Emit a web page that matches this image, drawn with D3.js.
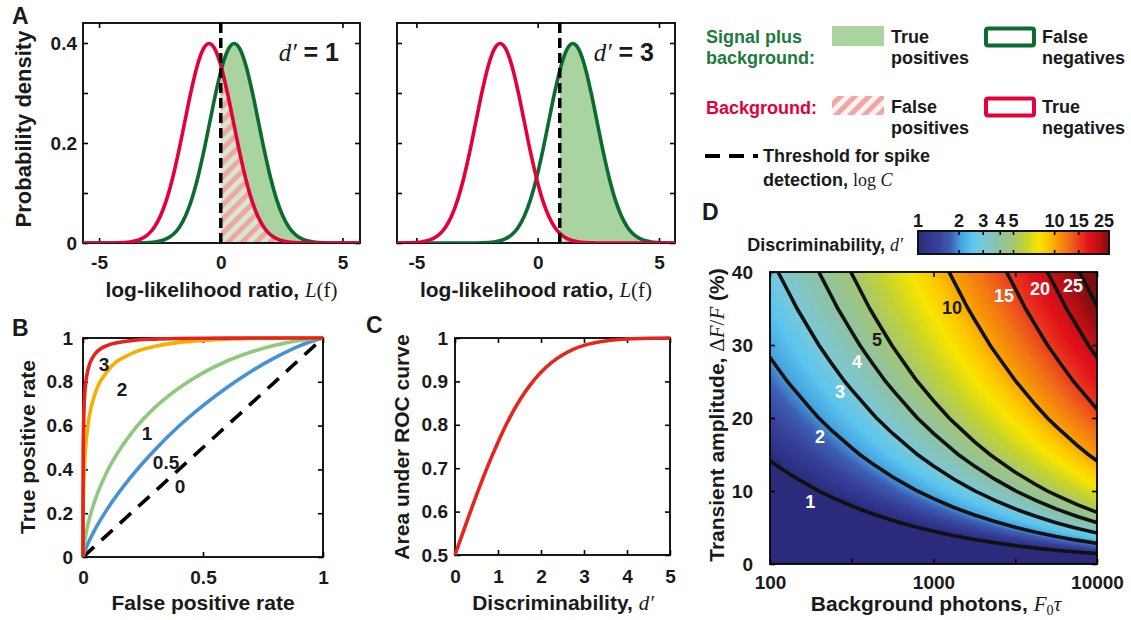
<!DOCTYPE html>
<html>
<head>
<meta charset="utf-8">
<script src="https://cdn.jsdelivr.net/npm/d3@7"></script>
<style>
  body { margin: 0; background: #fff; }
  svg { display: block; }
</style>
</head>
<body>
<script>
// ---------- data ----------
// panel A: standard-normal shape sampled at offsets from the mean
const zOffsets = [-8, -4, -3.75, -3.5, -3.25, -3, -2.75, -2.5, -2.25, -2, -1.75, -1.5, -1.25, -1, -0.75, -0.5, -0.25,
                  0, 0.25, 0.5, 0.75, 1, 1.25, 1.5, 1.75, 2, 2.25, 2.5, 2.75, 3, 3.25, 3.5, 3.75, 4, 8];
const pdfShape = [0, 0.0001, 0.0004, 0.0009, 0.0020, 0.0044, 0.0091, 0.0175, 0.0317, 0.0540, 0.0863, 0.1295, 0.1826, 0.2420, 0.3011, 0.3521, 0.3867,
                  0.3989, 0.3867, 0.3521, 0.3011, 0.2420, 0.1826, 0.1295, 0.0863, 0.0540, 0.0317, 0.0175, 0.0091, 0.0044, 0.0020, 0.0009, 0.0004, 0.0001, 0];
const dPrimeA = [1, 3];
const bgMean = [-0.48, -1.55];
const sigMean = [0.55, 1.45];
const thresholdA = [0, 0.91];

// panel B: ROC curves
const rocLabels = ['0', '0.5', '1', '2', '3'];
const fprGrid = [0, 0.00001, 0.0001, 0.001, 0.005, 0.01, 0.02, 0.05, 0.1, 0.2, 0.3, 0.4, 0.5, 0.6, 0.7, 0.8, 0.9, 0.95, 1];
const tprD0 = [0, 0.00001, 0.0001, 0.001, 0.005, 0.01, 0.02, 0.05, 0.1, 0.2, 0.3, 0.4, 0.5, 0.6, 0.7, 0.8, 0.9, 0.95, 1];
const tprD05 = [0, 0.00008, 0.00064, 0.0048, 0.019, 0.034, 0.060, 0.126, 0.217, 0.366, 0.490, 0.598, 0.691, 0.774, 0.847, 0.910, 0.963, 0.984, 1];
const tprD1 = [0, 0.00055, 0.0033, 0.018, 0.058, 0.092, 0.146, 0.259, 0.389, 0.563, 0.683, 0.772, 0.841, 0.895, 0.936, 0.967, 0.989, 0.996, 1];
const tprD2 = [0, 0.0247, 0.078, 0.215, 0.391, 0.490, 0.597, 0.744, 0.846, 0.928, 0.962, 0.980, 0.989, 0.9947, 0.9976, 0.9992, 0.9998, 1, 1];
const tprD3 = [0, 0.122, 0.268, 0.504, 0.700, 0.781, 0.852, 0.927, 0.9655, 0.988, 0.995, 0.9978, 0.999, 0.9996, 0.9999, 1, 1, 1, 1];
const rocLabelPos = [[0.404, 0.324], [0.346, 0.434], [0.267, 0.566], [0.1625, 0.767], [0.0875, 0.881]];

// panel C: area under ROC vs d'
const dGridC = [0, 0.25, 0.5, 0.75, 1, 1.25, 1.5, 1.75, 2, 2.25, 2.5, 2.75, 3, 3.25, 3.5, 3.75, 4, 4.5, 5];
const aucVals = [0.5, 0.570, 0.638, 0.702, 0.760, 0.812, 0.856, 0.892, 0.921, 0.944, 0.961, 0.974, 0.983, 0.989, 0.9933, 0.996, 0.9977, 0.9993, 0.9998];

// panel D: discriminability over background photons (columns) x transient amplitude % (rows)
const photonCols = [100, 133.4, 177.8, 237.1, 316.2, 421.7, 562.3, 749.9, 1000, 1333, 1778, 2371, 3162, 4217, 5623, 7499, 10000];
const ampRows = [0, 5, 10, 15, 20, 25, 30, 35, 40];
const dGrid = [
  [0, 0, 0, 0, 0, 0, 0, 0, 0, 0, 0, 0, 0, 0, 0, 0, 0],
  [0.354, 0.408, 0.471, 0.545, 0.629, 0.726, 0.839, 0.968, 1.118, 1.291, 1.491, 1.721, 1.989, 2.296, 2.651, 3.061, 3.535],
  [0.707, 0.817, 0.943, 1.090, 1.258, 1.453, 1.678, 1.938, 2.235, 2.583, 2.983, 3.443, 3.978, 4.593, 5.303, 6.123, 7.070],
  [1.061, 1.226, 1.414, 1.635, 1.886, 2.179, 2.516, 2.906, 3.354, 3.874, 4.474, 5.164, 5.966, 6.889, 7.954, 9.184, 10.605],
  [1.414, 1.633, 1.886, 2.180, 2.515, 2.905, 3.355, 3.875, 4.470, 5.165, 5.965, 6.885, 7.955, 9.185, 10.605, 12.245, 14.140],
  [1.768, 2.041, 2.358, 2.725, 3.144, 3.631, 4.194, 4.844, 5.590, 6.456, 7.456, 8.606, 9.944, 11.481, 13.256, 15.306, 17.675],
  [2.121, 2.449, 2.829, 3.270, 3.773, 4.358, 5.033, 5.813, 6.705, 7.748, 8.948, 10.328, 11.933, 13.778, 15.908, 18.368, 21.210],
  [2.475, 2.858, 3.300, 3.815, 4.401, 5.084, 5.871, 6.781, 7.823, 9.039, 10.439, 12.049, 13.921, 16.074, 18.559, 21.429, 24.745],
  [2.828, 3.266, 3.772, 4.356, 5.030, 5.808, 6.707, 7.745, 8.944, 10.330, 11.930, 13.770, 15.910, 18.370, 21.210, 24.490, 28.280]
];
const contourLevels = [1, 2, 3, 4, 5, 10, 15, 20, 25];
const contourLabelPos = [[176, 8.5], [202, 17.4], [268, 23.6], [340, 27.8], [451, 30.8], [1297, 35.2], [2698, 36.8], [4480, 37.7], [7129, 38.2]];
const contourLabelDark = [false, false, false, false, true, true, false, false, false];
const colorbarTicks = [1, 2, 3, 4, 5, 10, 15, 25];

// colormap stops (d', colour)
const cmapVals = [1, 1.4, 1.75, 2.05, 2.5, 3, 3.8, 4.8, 6.2, 7.6, 8.8, 10, 12.5, 15, 18, 21, 25];
const cmapCols = ['#2b2a7b', '#36409a', '#3e5fb5', '#47a2df', '#5bc6ee', '#7cc7d8', '#8bc3aa', '#9fc57f', '#c6d42c',
                  '#f8e500', '#fec800', '#fba600', '#f27216', '#ea3d1d', '#e2101b', '#bd1015', '#7b0f0f'];

// ---------- setup ----------
const fontSans = '"Liberation Sans", Arial, Helvetica, sans-serif';
const fontSerif = '"Liberation Serif", "Times New Roman", serif';
const ink = '#1a1a1a';
const green = '#0b6b30', red = '#e4003a', greenFill = '#a9d4a0';

const svg = d3.select('body').append('svg')
  .attr('width', 1131).attr('height', 620)
  .attr('font-family', fontSans).attr('font-weight', 'bold');
const defs = svg.append('defs');

function hatch(id, bg) {
  const p = defs.append('pattern').attr('id', id).attr('patternUnits', 'userSpaceOnUse')
    .attr('width', 10).attr('height', 10).attr('patternTransform', 'rotate(45)');
  p.append('rect').attr('width', 10).attr('height', 10).attr('fill', bg);
  p.append('rect').attr('width', 5).attr('height', 10).attr('fill', '#f2a5a5');
}
hatch('hatchPlot', '#d3e8cc');
hatch('hatchLegend', '#fdf3f3');

function rich(parent, x, y, parts, size, anchor, fill) {
  const t = parent.append('text').attr('x', x).attr('y', y).attr('font-size', size)
    .attr('text-anchor', anchor || 'start').attr('fill', fill || ink);
  parts.forEach(p => {
    const [s, kind] = typeof p === 'string' ? [p, 'b'] : p;
    const ts = t.append('tspan').text(s);
    if (kind !== 'b') ts.attr('font-family', fontSerif).attr('font-weight', 'normal');
    if (kind === 'i' || kind === 'iu') ts.attr('font-style', 'italic');
    if (kind === 'sub') ts.attr('font-size', size * 0.68).attr('dy', size * 0.2);
    if (kind === 'iu') ts.attr('dy', -size * 0.2);
  });
  return t;
}

function clipRect(id, x, y, w, h) {
  defs.append('clipPath').attr('id', id).append('rect').attr('x', x).attr('y', y).attr('width', w).attr('height', h);
}

function drawAxes(xs, ys, o) {
  const [xa, xb] = xs.range();
  const [yb, ya] = ys.range();
  const g = svg.append('g');
  g.append('g').attr('transform', `translate(0,${yb})`)
    .call(d3.axisBottom(xs).tickValues(o.xTicks).tickSizeInner(-5).tickSizeOuter(0).tickPadding(o.xPad).tickFormat(o.xFmt));
  g.append('g').attr('transform', `translate(0,${ya})`)
    .call(d3.axisTop(xs).tickValues(o.xTicks).tickSizeInner(-5).tickSizeOuter(0).tickFormat(''));
  g.append('g').attr('transform', `translate(${xa},0)`)
    .call(d3.axisLeft(ys).tickValues(o.yTicks).tickSizeInner(-5).tickSizeOuter(0).tickPadding(o.yPad).tickFormat(o.yFmt));
  g.append('g').attr('transform', `translate(${xb},0)`)
    .call(d3.axisRight(ys).tickValues(o.yTicks).tickSizeInner(-5).tickSizeOuter(0).tickFormat(''));
  g.selectAll('.domain').remove();
  g.selectAll('.tick line').attr('stroke', '#000').attr('stroke-width', 1.6);
  g.selectAll('g').attr('font-family', fontSans).attr('font-size', 19).attr('font-weight', 'bold');
  g.selectAll('.tick text').attr('fill', ink);
  g.append('rect').attr('x', xa).attr('y', ya).attr('width', xb - xa).attr('height', yb - ya)
    .attr('fill', 'none').attr('stroke', '#000').attr('stroke-width', 1.8);
  return g;
}

// panel letters
[['A', 12, 24], ['B', 12, 336], ['C', 366, 333], ['D', 702, 220]].forEach(([s, x, y]) =>
  svg.append('text').attr('x', x).attr('y', y).attr('font-size', 23).attr('fill', ink).text(s));

// ---------- panel A ----------
const aBoxes = [{ x0: 83, x1: 360, dom: [-5.66, 5.72] }, { x0: 397, x1: 675, dom: [-5.8, 5.66] }];
const yA = d3.scaleLinear().domain([0, 0.44]).range([243, 23]);

dPrimeA.forEach((dp, k) => {
  const b = aBoxes[k];
  const xA = d3.scaleLinear().domain(b.dom).range([b.x0, b.x1]);
  const bg = zOffsets.map((z, i) => [bgMean[k] + z, pdfShape[i]]);
  const sig = zOffsets.map((z, i) => [sigMean[k] + z, pdfShape[i]]);
  const tx = xA(thresholdA[k]);
  clipRect('boxA' + k, b.x0, 23, b.x1 - b.x0, 220);
  clipRect('rightA' + k, tx, 23, b.x1 - tx, 221);

  const area = d3.area().x(d => xA(d[0])).y0(yA(0)).y1(d => yA(d[1])).curve(d3.curveMonotoneX);
  const line = d3.line().x(d => xA(d[0])).y(d => yA(d[1])).curve(d3.curveMonotoneX);

  const fills = svg.append('g').attr('clip-path', `url(#rightA${k})`);
  fills.append('path').attr('d', area(sig)).attr('fill', greenFill);
  fills.append('path').attr('d', area(bg)).attr('fill', 'url(#hatchPlot)');

  drawAxes(xA, yA, {
    xTicks: [-5, 0, 5], xPad: 13, xFmt: d => String(d),
    yTicks: [0, 0.1, 0.2, 0.3, 0.4], yPad: 6,
    yFmt: k === 0 ? (d => (d === 0.1 || d === 0.3) ? '' : String(d)) : ''
  });

  const curves = svg.append('g').attr('clip-path', `url(#boxA${k})`);
  curves.append('path').attr('d', line(sig)).attr('fill', 'none').attr('stroke', green).attr('stroke-width', 3.6);
  curves.append('path').attr('d', line(bg)).attr('fill', 'none').attr('stroke', red).attr('stroke-width', 3.6);

  svg.append('line').attr('x1', tx).attr('x2', tx).attr('y1', 23).attr('y2', 243)
    .attr('stroke', '#000').attr('stroke-width', 3.5).attr('stroke-dasharray', '10 5');

  rich(svg, b.x1 - 21, 61, [['d′', 'i'], ' = ' + dp], 25, 'end');
  rich(svg, (b.x0 + b.x1) / 2, 297, ['log-likelihood ratio, ', ['L', 'i'], ['(f)', 'r']], 21, 'middle');
});

svg.append('text').attr('transform', 'translate(31,129) rotate(-90)').attr('text-anchor', 'middle')
  .attr('font-size', 22).attr('fill', ink).text('Probability density');

// ---------- legend ----------
const lg = svg.append('g').attr('font-size', 18);
rich(lg, 706, 43, ['Signal plus'], 18, 'start', '#1e7b3c');
rich(lg, 706, 64, ['background:'], 18, 'start', '#1e7b3c');
lg.append('rect').attr('x', 832).attr('y', 26).attr('width', 52).attr('height', 20).attr('fill', greenFill);
rich(lg, 891, 43, ['True'], 18); rich(lg, 891, 64, ['positives'], 18);
lg.append('rect').attr('x', 986).attr('y', 28.5).attr('width', 48).attr('height', 17).attr('rx', 2)
  .attr('fill', '#fff').attr('stroke', green).attr('stroke-width', 4);
rich(lg, 1042, 43, ['False'], 18); rich(lg, 1042, 64, ['negatives'], 18);

rich(lg, 706, 114, ['Background:'], 18, 'start', red);
lg.append('rect').attr('x', 832).attr('y', 96).attr('width', 52).attr('height', 19).attr('fill', 'url(#hatchLegend)');
rich(lg, 891, 113, ['False'], 18); rich(lg, 891, 134, ['positives'], 18);
lg.append('rect').attr('x', 986).attr('y', 98.5).attr('width', 48).attr('height', 17).attr('rx', 2)
  .attr('fill', '#fff').attr('stroke', red).attr('stroke-width', 4);
rich(lg, 1042, 113, ['True'], 18); rich(lg, 1042, 134, ['negatives'], 18);

lg.append('line').attr('x1', 705).attr('x2', 758).attr('y1', 156).attr('y2', 156)
  .attr('stroke', '#000').attr('stroke-width', 4).attr('stroke-dasharray', '15 9');
rich(lg, 763, 162, ['Threshold for spike'], 18);
rich(lg, 763, 186, ['detection, ', ['log ', 'r'], ['C', 'i']], 18);

// ---------- panel B ----------
const xB = d3.scaleLinear().domain([0, 1]).range([83, 323]);
const yB = d3.scaleLinear().domain([0, 1]).range([557, 338]);
drawAxes(xB, yB, {
  xTicks: [0, 0.5, 1], xPad: 14, xFmt: d => String(d),
  yTicks: [0, 0.2, 0.4, 0.6, 0.8, 1], yPad: 10, yFmt: d => String(d)
});
const rocLine = d3.line().x(d => xB(d[0])).y(d => yB(d[1])).curve(d3.curveMonotoneX);
const rocSeries = [tprD0, tprD05, tprD1, tprD2, tprD3];
const rocColors = ['#000', '#4592d6', '#8ec97d', '#f8ad00', '#e5231c'];
const gB = svg.append('g');
rocSeries.forEach((tpr, i) => {
  gB.append('path').attr('d', rocLine(fprGrid.map((f, j) => [f, tpr[j]])))
    .attr('fill', 'none').attr('stroke', rocColors[i]).attr('stroke-width', 3.6)
    .attr('stroke-dasharray', i === 0 ? '15 10' : null);
});
rocLabels.forEach((s, i) => {
  svg.append('text').attr('x', xB(rocLabelPos[i][0])).attr('y', yB(rocLabelPos[i][1]))
    .attr('text-anchor', 'middle').attr('dy', '0.35em').attr('font-size', 19).attr('fill', ink).text(s);
});
svg.append('text').attr('transform', 'translate(28,447) rotate(-90)').attr('dy', '0.35em').attr('text-anchor', 'middle')
  .attr('font-size', 21).attr('fill', ink).text('True positive rate');
svg.append('text').attr('x', 203).attr('y', 610).attr('text-anchor', 'middle')
  .attr('font-size', 21).attr('fill', ink).text('False positive rate');

// ---------- panel C ----------
const xC = d3.scaleLinear().domain([0, 5]).range([455, 670]);
const yC = d3.scaleLinear().domain([0.5, 1]).range([555, 338]);
drawAxes(xC, yC, {
  xTicks: [0, 1, 2, 3, 4, 5], xPad: 15, xFmt: d => String(d),
  yTicks: [0.5, 0.6, 0.7, 0.8, 0.9, 1], yPad: 7, yFmt: d => String(d)
});
svg.append('path')
  .attr('d', d3.line().x(d => xC(d[0])).y(d => yC(d[1])).curve(d3.curveMonotoneX)(dGridC.map((d, i) => [d, aucVals[i]])))
  .attr('fill', 'none').attr('stroke', '#e5261e').attr('stroke-width', 3.6);
svg.append('text').attr('transform', 'translate(402,447) rotate(-90)').attr('dy', '0.35em').attr('text-anchor', 'middle')
  .attr('font-size', 21).attr('fill', ink).text('Area under ROC curve');
rich(svg, 563, 610, ['Discriminability, ', ['d′', 'i']], 21, 'middle');

// ---------- panel D ----------
const xD = d3.scaleLog().domain([100, 10000]).range([770, 1097]);
const yD = d3.scaleLinear().domain([0, 40]).range([564, 272]);
const cmap = d3.scaleLog().domain(cmapVals).range(cmapCols).interpolate(d3.interpolateRgb).clamp(true);

// grid index -> pixel (values sit at cell centres in d3.contours space)
const nCols = photonCols.length, nRows = ampRows.length;
const gx = d3.scaleLinear().domain([0.5, nCols - 0.5]).range([xD(photonCols[0]), xD(photonCols[nCols - 1])]);
const gy = d3.scaleLinear().domain([0.5, nRows - 0.5]).range([yD(ampRows[0]), yD(ampRows[nRows - 1])]);
const proj = d3.geoTransform({ point(x, y) { this.stream.point(gx(x), gy(y)); } });
const gpath = d3.geoPath(proj);
const flat = dGrid.flat();

clipRect('boxD', 770, 272, 327, 292);
const heat = svg.append('g').attr('clip-path', 'url(#boxD)');
heat.append('rect').attr('x', 770).attr('y', 272).attr('width', 327).attr('height', 292).attr('fill', cmap(1));

const nBands = 160;
const bandThr = d3.range(nBands).map(i => Math.pow(30, i / nBands));
const bands = d3.contours().size([nCols, nRows]).thresholds(bandThr)(flat);
heat.selectAll('path.band').data(bands).join('path').attr('class', 'band')
  .attr('d', gpath).attr('fill', d => cmap(d.value * Math.pow(30, 0.5 / nBands)))
  .attr('stroke', d => cmap(d.value * Math.pow(30, 0.5 / nBands))).attr('stroke-width', 0.6);

const lines = d3.contours().size([nCols, nRows]).thresholds(contourLevels)(flat);
heat.selectAll('path.iso').data(lines).join('path').attr('class', 'iso')
  .attr('d', gpath).attr('fill', 'none').attr('stroke', '#111').attr('stroke-width', 3.6);

contourLevels.forEach((lv, i) => {
  svg.append('text').attr('x', xD(contourLabelPos[i][0])).attr('y', yD(contourLabelPos[i][1]))
    .attr('text-anchor', 'middle').attr('dy', '0.36em').attr('font-size', 18)
    .attr('fill', contourLabelDark[i] ? ink : '#fff').text(lv);
});

drawAxes(xD, yD, {
  xTicks: [100, 316.2, 1000, 3162, 10000], xPad: 12, xFmt: d => (d === 100 || d === 1000 || d === 10000) ? String(d) : '',
  yTicks: [0, 10, 20, 30, 40], yPad: 17, yFmt: d => String(d)
});

rich(svg, 0, 0, ['Transient amplitude, ', ['Δ', 'r'], ['F', 'i'], ['/', 'r'], ['F', 'i'], ' (%)'], 21, 'middle')
  .attr('transform', 'translate(724,415) rotate(-90)');
rich(svg, 936, 611, ['Background photons, ', ['F', 'i'], ['0', 'sub'], ['τ', 'iu']], 21, 'middle');

// colour bar
const xCb = d3.scaleLog().domain([1, 25]).range([918, 1109]);
const cb = svg.append('g');
d3.range(918, 1109).forEach(px => {
  cb.append('rect').attr('x', px).attr('y', 231).attr('width', 1.2).attr('height', 23)
    .attr('fill', cmap(xCb.invert(px + 0.5)));
});
colorbarTicks.forEach(v => {
  const x = xCb(v);
  if (v > 1 && v < 25) {
    cb.append('line').attr('x1', x).attr('x2', x).attr('y1', 231).attr('y2', 235).attr('stroke', '#000').attr('stroke-width', 1.6);
    cb.append('line').attr('x1', x).attr('x2', x).attr('y1', 250).attr('y2', 254).attr('stroke', '#000').attr('stroke-width', 1.6);
  }
  cb.append('text').attr('x', v === 25 ? x - 5 : x).attr('y', 227).attr('text-anchor', 'middle')
    .attr('font-size', 18).attr('fill', ink).text(v);
});
cb.append('rect').attr('x', 918).attr('y', 231).attr('width', 191).attr('height', 23)
  .attr('fill', 'none').attr('stroke', '#111').attr('stroke-width', 2);
rich(svg, 903, 251, ['Discriminability, ', ['d′', 'i']], 18, 'end');
</script>
</body>
</html>
